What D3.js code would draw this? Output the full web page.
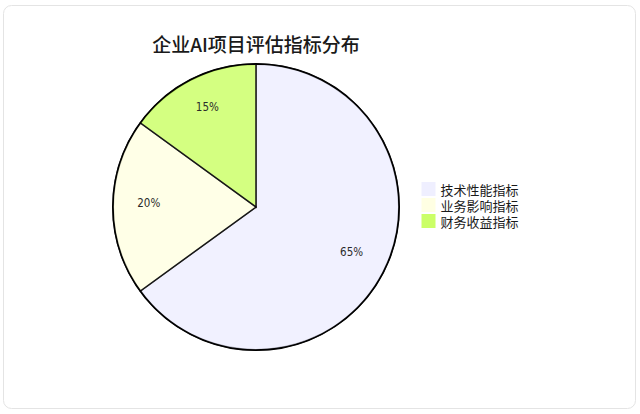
<!DOCTYPE html>
<html>
<head>
<meta charset="utf-8">
<title>企业AI项目评估指标分布</title>
<script src="https://cdn.jsdelivr.net/npm/d3@7/dist/d3.min.js"></script>
<style>
    body { margin: 0; background: #fff; }
    #chart text { fill: #1a1a1a; }
    .slice { stroke: #000; stroke-width: 1.5px; opacity: 0.7; }
    .outline { fill: none; stroke: #000; stroke-width: 2px; }
    .pct { font-family: "DejaVu Sans Condensed", "DejaVu Sans", sans-serif; font-size: 11.5px; text-anchor: middle; }
    #chart .pct { fill: #2b2b2b; }
    .legend text { font-family: "Noto Sans CJK SC", sans-serif; font-size: 13px; }
    .title { font-family: "Noto Sans CJK SC", sans-serif; font-size: 19px; font-weight: 500; text-anchor: middle; }
</style>
</head>
<body>
<svg id="chart" width="640" height="414"></svg>
<script>
    const title = "企业AI项目评估指标分布";
    const categories = ["技术性能指标", "业务影响指标", "财务收益指标"];
    const values = [65, 20, 15];

    const palette = ["#ECECFF", "#ffffde", "#c2ff4c"];
    const cx = 256, cy = 207, radius = 143;

    const svg = d3.select("#chart");

    // card frame
    svg.append("rect")
        .attr("x", 3.5).attr("y", 5.5)
        .attr("width", 632).attr("height", 403)
        .attr("rx", 8)
        .attr("fill", "#fff")
        .attr("stroke", "#e4e4e4");

    svg.append("text")
        .attr("class", "title")
        .attr("x", cx).attr("y", 52)
        .text(title);

    const color = d3.scaleOrdinal().domain(categories).range(palette);
    const total = d3.sum(values);
    const data = categories.map((c, i) => ({ label: c, value: values[i] }));

    const pie = d3.pie().sort(null).value(d => d.value);
    const arc = d3.arc().innerRadius(0).outerRadius(radius);
    const labelArc = d3.arc().innerRadius(radius * 0.75).outerRadius(radius * 0.75);

    const g = svg.append("g").attr("transform", "translate(" + cx + "," + cy + ")");

    g.append("circle")
        .attr("class", "outline")
        .attr("r", radius);

    const arcs = pie(data);

    g.selectAll("path.slice")
        .data(arcs)
        .enter().append("path")
        .attr("class", "slice")
        .attr("d", arc)
        .attr("fill", d => color(d.data.label));

    g.selectAll("text.pct")
        .data(arcs)
        .enter().append("text")
        .attr("class", "pct")
        .attr("transform", d => "translate(" + labelArc.centroid(d) + ")")
        .text(d => Math.round(d.data.value / total * 100) + "%");

    const legend = svg.append("g").attr("class", "legend")
        .selectAll("g")
        .data(categories)
        .enter().append("g")
        .attr("transform", (d, i) => "translate(421.5," + (182 + i * 16) + ")");

    legend.append("rect")
        .attr("width", 14).attr("height", 14)
        .attr("fill", d => color(d))
        .attr("opacity", 0.85);

    legend.append("text")
        .attr("x", 19).attr("y", 7)
        .attr("dominant-baseline", "central")
        .text(d => d);
</script>
</body>
</html>
